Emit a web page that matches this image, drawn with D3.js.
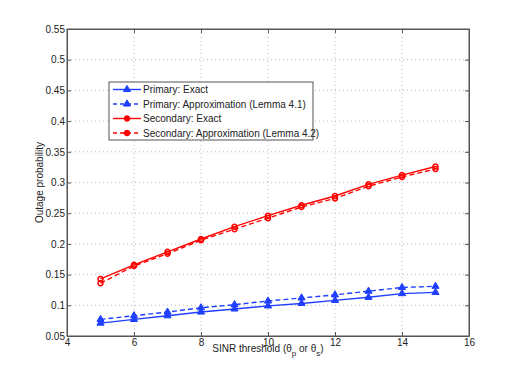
<!DOCTYPE html>
<html>
<head>
<meta charset="utf-8">
<script src="https://cdn.jsdelivr.net/npm/d3@7"></script>
<style>
  body { margin: 0; background: #fff; }
  text { font-family: "Liberation Sans", Arial, sans-serif; }
</style>
</head>
<body>
<div id="chart"></div>
<script>
// data
var thresholds = [5, 6, 7, 8, 9, 10, 11, 12, 13, 14, 15];
var primaryExact = [0.071, 0.077, 0.083, 0.089, 0.094, 0.099, 0.103, 0.108, 0.113, 0.119, 0.121];
var primaryApprox = [0.077, 0.083, 0.089, 0.096, 0.101, 0.107, 0.112, 0.117, 0.123, 0.129, 0.131];
var secondaryExact = [0.143, 0.166, 0.187, 0.208, 0.228, 0.246, 0.263, 0.278, 0.297, 0.312, 0.326];
var secondaryApprox = [0.136, 0.164, 0.184, 0.206, 0.224, 0.242, 0.260, 0.274, 0.294, 0.309, 0.322];
var xTicks = [4, 6, 8, 10, 12, 14, 16];
var yTicks = [0.05, 0.1, 0.15, 0.2, 0.25, 0.3, 0.35, 0.4, 0.45, 0.5, 0.55];
var seriesNames = ["Primary: Exact", "Primary: Approximation (Lemma 4.1)",
                   "Secondary: Exact", "Secondary: Approximation (Lemma 4.2)"];

var series = [
  { name: seriesNames[0], values: primaryExact, color: "#1f3fff", dash: null, marker: "triangle" },
  { name: seriesNames[1], values: primaryApprox, color: "#1f3fff", dash: "5,3", marker: "triangle" },
  { name: seriesNames[2], values: secondaryExact, color: "#ff0000", dash: null, marker: "circle" },
  { name: seriesNames[3], values: secondaryApprox, color: "#ff0000", dash: "5,3", marker: "circle" }
];

var W = 518, H = 378;
var margin = { top: 29, right: 49, bottom: 42, left: 67 };
var width = W - margin.left - margin.right, height = H - margin.top - margin.bottom;

var svg = d3.select("#chart").append("svg")
  .attr("width", W).attr("height", H);
var g = svg.append("g")
  .attr("transform", "translate(" + margin.left + "," + margin.top + ")");

var x = d3.scaleLinear().domain([4, 16]).range([0, width]);
var y = d3.scaleLinear().domain([0.05, 0.55]).range([height, 0]);

// grid
g.append("g").selectAll("line").data(xTicks.slice(1, -1)).enter().append("line")
  .attr("x1", function(d) { return x(d); }).attr("x2", function(d) { return x(d); })
  .attr("y1", 0).attr("y2", height)
  .attr("stroke", "#bbb").attr("stroke-dasharray", "1,3");
g.append("g").selectAll("line").data(yTicks.slice(1, -1)).enter().append("line")
  .attr("y1", function(d) { return y(d); }).attr("y2", function(d) { return y(d); })
  .attr("x1", 0).attr("x2", width)
  .attr("stroke", "#bbb").attr("stroke-dasharray", "1,3");

// axes (ticks inward)
var fmt = function(d) { return d3.format("")(+d.toFixed(2)); };
var xAxis = g.append("g").attr("transform", "translate(0," + height + ")")
  .call(d3.axisBottom(x).tickValues(xTicks).tickSizeInner(-4).tickSizeOuter(0).tickPadding(3));
var yAxis = g.append("g")
  .call(d3.axisLeft(y).tickValues(yTicks).tickFormat(fmt).tickSizeInner(-4).tickSizeOuter(0).tickPadding(2));
var xTop = g.append("g")
  .call(d3.axisTop(x).tickValues(xTicks).tickSizeInner(-4).tickSizeOuter(0).tickFormat(""));
var yRight = g.append("g").attr("transform", "translate(" + width + ",0)")
  .call(d3.axisRight(y).tickValues(yTicks).tickSizeInner(-4).tickSizeOuter(0).tickFormat(""));
[xAxis, yAxis, xTop, yRight].forEach(function(a) {
  a.selectAll("path").attr("stroke", "#555");
  a.selectAll("line").attr("stroke", "#555");
  a.selectAll("text").attr("font-size", 10).attr("fill", "#222");
});
g.append("rect").attr("width", width).attr("height", height)
  .attr("fill", "none").attr("stroke", "#555");

// lines
var line = d3.line()
  .x(function(d, i) { return x(thresholds[i]); })
  .y(function(d) { return y(d); });

var triangle = d3.symbol().type(d3.symbolTriangle).size(22);
var circle = d3.symbol().type(d3.symbolCircle).size(20);

function drawMarker(sel, s) {
  if (s.marker == "triangle") {
    sel.attr("d", triangle).attr("fill", s.color).attr("stroke", s.color).attr("stroke-width", 1);
  } else {
    sel.attr("d", circle).attr("fill", "none").attr("stroke", s.color).attr("stroke-width", 1.5);
  }
}

series.forEach(function(s) {
  g.append("path").datum(s.values)
    .attr("d", line)
    .attr("fill", "none")
    .attr("stroke", s.color)
    .attr("stroke-width", 1.4)
    .attr("stroke-dasharray", s.dash);
  g.append("g").selectAll("path").data(s.values).enter().append("path")
    .attr("transform", function(d, i) { return "translate(" + x(thresholds[i]) + "," + y(d) + ")"; })
    .call(drawMarker, s);
});

// legend
var legend = svg.append("g").attr("transform", "translate(109,82)");
legend.append("rect").attr("width", 204).attr("height", 58)
  .attr("fill", "#fff").attr("stroke", "#555");
series.forEach(function(s, i) {
  var row = legend.append("g").attr("transform", "translate(0," + (7.5 + i * 14.5) + ")");
  row.append("line").attr("x1", 4).attr("x2", 32).attr("y1", 0).attr("y2", 0)
    .attr("stroke", s.color).attr("stroke-width", 1.4).attr("stroke-dasharray", s.dash ? "4,3" : null);
  row.append("path").attr("transform", "translate(18,0)").call(drawMarker, s);
  if (s.marker == "circle") row.select("path:last-child").attr("fill", s.color);
  row.append("text").attr("x", 34).attr("y", 3.5).attr("font-size", 10).attr("fill", "#222").text(s.name);
});

// axis labels
var xl = svg.append("text").attr("x", margin.left + width / 2).attr("y", 352)
  .attr("text-anchor", "middle").attr("font-size", 10).attr("fill", "#222");
xl.append("tspan").text("SINR threshold (θ");
xl.append("tspan").attr("font-size", 8).attr("dy", 4).text("p");
xl.append("tspan").attr("dy", -4).text(" or θ");
xl.append("tspan").attr("font-size", 8).attr("dy", 4).text("s");
xl.append("tspan").attr("dy", -4).text(")");

svg.append("text")
  .attr("transform", "translate(43," + (margin.top + height / 2) + ") rotate(-90)")
  .attr("text-anchor", "middle").attr("font-size", 10).attr("fill", "#222")
  .text("Outage probability");
</script>
</body>
</html>
